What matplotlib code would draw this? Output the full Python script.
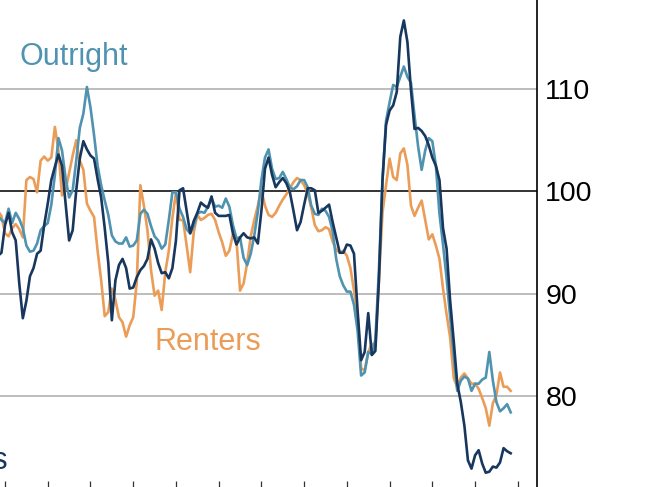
import matplotlib
matplotlib.use("Agg")
import matplotlib.pyplot as plt
import numpy as np

months = list(range(10, 155))

outright = [97.6, 97.2, 96.9, 98.3, 96.9, 97.9, 97.3, 96.4, 94.7, 94.1,
            94.2, 94.9, 96.2, 96.6, 96.9, 98.7, 101.6, 105.2, 104.0, 101.3,
            99.4, 100.1, 103.0, 106.2, 107.6, 110.2, 108.2, 105.5, 102.5, 100.6,
            99.1, 97.7, 95.7, 95.1, 94.9, 94.9, 95.5, 94.6, 94.7, 95.2,
            97.8, 98.2, 97.8, 96.6, 95.6, 95.2, 94.4, 94.8, 97.2, 99.9,
            99.9, 98.3, 97.5, 96.3, 95.9, 96.6, 97.8, 98.0, 97.9, 98.5,
            99.3, 98.5, 98.6, 98.4, 99.3, 98.5, 96.7, 95.4, 95.5, 93.5,
            92.8, 93.9, 95.7, 98.0, 101.1, 103.3, 104.1, 102.2, 101.2, 101.3,
            101.9, 101.2, 100.4, 100.2, 100.5, 101.1, 101.1, 100.4, 98.6, 97.8,
            97.7, 98.3, 98.1, 97.5, 96.1, 93.4, 91.7, 90.8, 90.2, 90.2,
            88.9, 86.4, 82.0, 82.3, 84.3, 84.1, 85.5, 92.3, 101.1, 106.9,
            108.7, 110.4, 110.2, 111.2, 112.2, 111.2, 110.6, 107.4, 104.4, 102.1,
            104.0, 105.2, 104.9, 102.5, 97.8, 94.8, 91.5, 87.7, 84.0, 80.5,
            81.5, 81.9, 81.7, 80.5, 81.2, 81.2, 81.6, 81.8, 84.3, 81.5,
            79.4, 78.5, 78.8, 79.2, 78.4]

all_buyers = [93.7, 94.0, 96.7, 97.9, 96.0, 95.2, 91.0, 87.6, 89.3, 91.7,
              92.5, 93.9, 94.2, 96.7, 98.8, 101.1, 102.4, 103.6, 102.5, 98.8,
              95.2, 96.2, 100.1, 103.2, 104.9, 104.1, 103.5, 103.2, 101.2, 99.4,
              96.4, 93.0, 87.4, 91.3, 92.8, 93.4, 92.5, 90.5, 90.6, 91.6,
              92.3, 92.7, 93.4, 95.3, 94.4, 93.0, 92.0, 92.1, 91.5, 92.5,
              95.2, 100.1, 100.3, 98.1, 95.9, 97.1, 97.9, 98.9, 98.6, 98.4,
              99.5, 97.9, 97.6, 97.6, 97.6, 97.7, 95.9, 94.8, 95.5, 95.9,
              95.5, 95.4, 95.5, 94.9, 98.1, 102.2, 103.3, 101.6, 100.4, 100.9,
              101.3, 100.8, 99.9, 98.1, 96.2, 97.0, 98.7, 100.3, 100.3, 100.1,
              97.9, 98.1, 98.4, 98.7, 97.0, 95.5, 94.0, 94.0, 94.8, 94.7,
              93.9, 88.4, 83.5, 84.3, 88.1, 84.0, 84.4, 91.3, 101.1, 106.5,
              107.9, 108.4, 109.7, 115.1, 116.7, 114.6, 109.9, 106.1, 106.2, 105.9,
              105.4, 104.5, 103.3, 102.5, 101.1, 96.4, 94.4, 89.3, 85.4, 81.2,
              79.4, 77.1, 73.7, 72.9, 74.2, 74.7, 73.4, 72.5, 72.6, 73.1,
              73.0, 73.5, 74.9, 74.6, 74.4]

renters = [98.1, 97.6, 95.9, 95.6, 96.4, 96.8, 96.3, 95.5, 101.1, 101.4,
           101.2, 99.9, 103.0, 103.4, 103.0, 103.3, 106.3, 104.0, 99.6, 100.1,
           101.8, 103.5, 105.0, 103.0, 102.1, 98.8, 98.1, 97.5, 94.2, 91.3,
           87.8, 88.2, 90.5, 89.4, 87.7, 87.2, 85.8, 86.9, 87.7, 91.1,
           100.6, 98.6, 96.2, 92.3, 89.8, 90.3, 88.4, 92.1, 94.2, 97.4,
           99.9, 97.2, 97.2, 94.7, 92.1, 96.0, 97.7, 97.2, 97.4, 97.7,
           97.8, 97.2, 96.0, 95.0, 93.7, 94.2, 95.8, 95.2, 90.3, 91.0,
           93.0, 95.6, 97.2, 98.6, 100.1, 98.6, 97.7, 97.5, 97.9, 98.6,
           99.2, 99.7, 100.3, 100.9, 101.3, 101.1, 100.6, 99.8, 98.4, 96.7,
           96.1, 96.2, 96.5, 96.3, 95.1, 94.3, 94.0, 94.2, 93.7, 92.5,
           90.3, 87.9, 82.7, 82.5, 84.3, 85.1, 84.9, 91.3, 97.9, 100.6,
           103.2, 101.4, 101.1, 103.7, 104.2, 102.6, 98.6, 97.6, 98.4, 99.1,
           97.2, 95.3, 95.8, 94.7, 93.4, 90.5, 88.0, 85.7, 81.8, 80.8,
           81.8, 82.2, 81.7, 81.2, 81.2, 80.7, 79.8, 78.8, 77.1, 79.3,
           80.1, 82.3, 80.9, 80.9, 80.5]

grid_levels = [70, 80, 90, 110, 120]
ytick_vals = [70, 80, 90, 100, 110]
xtick_vals = list(range(12, 161, 12))

NAVY = "#17375e"
TEAL = "#4f93b0"
ORANGE = "#eb9d57"

fig = plt.figure(figsize=(6.5, 4.87), dpi=100)
ax = fig.add_axes([0.0, -0.0232, 0.8262, 1.0505])

for g in grid_levels:
    ax.axhline(g, color="#b8b8b8", lw=1.3, zorder=1)
ax.axhline(100, color="#333333", lw=1.4, zorder=1)

ax.plot(months, renters, color=ORANGE, lw=1.9, zorder=3)
ax.plot(months, outright, color=TEAL, lw=1.9, zorder=4)
ax.plot(months, all_buyers, color=NAVY, lw=1.9, zorder=5)

ax.set_xlim(10.59, 161.4)
ax.set_ylim(70, 120)

for s in ["left", "top", "bottom"]:
    ax.spines[s].set_visible(False)
ax.spines["right"].set_color("black")
ax.spines["right"].set_linewidth(1.2)

ax.yaxis.tick_right()
ax.set_yticks(ytick_vals)
ax.set_yticklabels([str(v) for v in ytick_vals], fontsize=20.5,
                   fontfamily="Liberation Sans")
ax.tick_params(axis="y", length=0, pad=6)

ax.set_xticks(xtick_vals)
ax.set_xticklabels([])
ax.tick_params(axis="x", direction="in", length=12, width=0.9, color="#333333")

ax.text(16.2, 112.3, "Outright", color=TEAL, fontsize=22,
        fontfamily="Liberation Sans", va="baseline", ha="left")
ax.text(54.1, 84.5, "Renters", color=ORANGE, fontsize=22,
        fontfamily="Liberation Sans", va="baseline", ha="left")
ax.text(12.8, 72.9, "All buyers", color=NAVY, fontsize=22,
        fontfamily="Liberation Sans", va="baseline", ha="right")

fig.savefig("out.png", dpi=100)
